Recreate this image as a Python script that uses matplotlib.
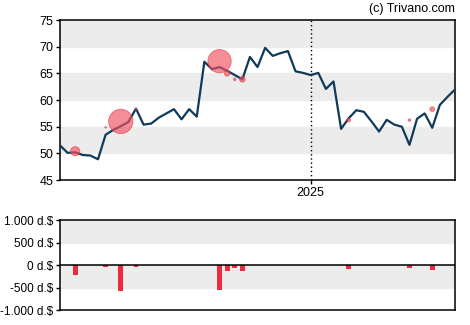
import numpy as np
import matplotlib.pyplot as plt

plt.rcParams['font.family'] = ['Liberation Sans', 'DejaVu Sans']

# weekly closing prices (index 0..52), 2025 starts at index 33
price = [51.5, 50.1, 50.2, 49.7, 49.6, 48.9, 53.5, 54.4, 55.1, 55.9,
         58.4, 55.4, 55.6, 56.7, 57.5, 58.3, 56.4, 58.3, 56.9, 67.2,
         65.8, 66.2, 65.5, 64.7, 63.9, 68.1, 66.2, 69.8, 68.3, 68.8,
         69.2, 65.4, 65.1, 64.7, 65.1, 62.1, 63.5, 54.6, 56.6, 58.1,
         57.8, 56.0, 54.1, 56.3, 55.4, 55.0, 51.6, 56.5, 57.5, 54.8,
         59.1, 60.6, 62.0]
year_idx = 33
year_label = "2025"

# insider trades: week index, price level, amount (thousand $)
trade_idx = [2, 6, 8, 10, 21, 22, 23, 24, 38, 46, 49]
trade_price = [50.4, 54.9, 56.0, 58.3, 67.3, 65.0, 63.9, 63.9, 56.25, 56.25, 58.3]
trade_amount = [-220, -35, -578, -35, -555, -126, -60, -133, -90, -60, -110]

fig = plt.figure(figsize=(4.7, 3.25), dpi=100)
ax = fig.add_axes([0.1277, 0.446, 0.8405, 0.492])
ax2 = fig.add_axes([0.1277, 0.046, 0.8405, 0.277])

x = np.arange(len(price))

# top: price chart
for lo in (50, 60, 70):
    ax.axhspan(lo, lo + 5, color='#ececec', zorder=0)
ax.axvline(year_idx, color='black', linestyle=(0, (1, 2)), linewidth=1, zorder=1)
ax.plot(x, price, color='#0f3a5a', linewidth=1.6, zorder=3)
radius_px = np.abs(trade_amount) * 0.021
sizes = (2 * np.maximum(radius_px, 0.8) * 0.72) ** 2
ax.scatter(trade_idx, trade_price, s=sizes, color='#f0505e', alpha=0.65,
           edgecolors='#e8303f', linewidths=0.6, zorder=4)
ax.set_xlim(0, len(price) - 1)
ax.set_ylim(45, 75)
ax.set_yticks([45, 50, 55, 60, 65, 70, 75])
ax.set_xticks([year_idx])
ax.set_xticklabels([year_label])
ax.tick_params(labelsize=9, length=3, width=1, pad=2)
for s in ax.spines.values():
    s.set_linewidth(1.1)

# bottom: insider volume bars
ax2.axhspan(500, 1000, color='#ececec', zorder=0)
ax2.axhspan(-500, 0, color='#ececec', zorder=0)
ax2.bar(trade_idx, trade_amount, width=0.65, color='#ee2a3f', zorder=2)
ax2.axhline(0, color='black', linewidth=1.1, zorder=3)
ax2.set_xlim(0, len(price) - 1)
ax2.set_ylim(-1000, 1000)
ax2.set_yticks([-1000, -500, 0, 500, 1000])
ax2.set_yticklabels(['-1.000 d.$', '-500 d.$', '0 d.$', '500 d.$', '1.000 d.$'])
ax2.set_xticks([])
ax2.tick_params(labelsize=8.5, length=3, width=1, pad=2)
for s in ax2.spines.values():
    s.set_linewidth(1.1)

fig.text(0.968, 0.972, '(c) Trivano.com', ha='right', va='center', fontsize=9)

plt.savefig('out.png', dpi=100)
